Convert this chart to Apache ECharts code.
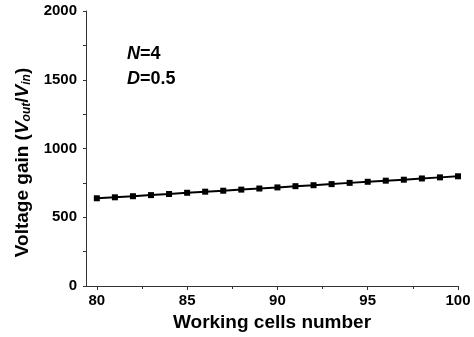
<!DOCTYPE html>
<html>
<head>
<meta charset="utf-8">
<script src="https://cdn.jsdelivr.net/npm/echarts@6/dist/echarts.min.js"></script>
<style>html,body{margin:0;padding:0;background:#fff}#c{width:474px;height:337px}</style>
</head>
<body>
<div id="c"></div>
<script>
// Working cells count and the resulting voltage gain
const cells = [80, 81, 82, 83, 84, 85, 86, 87, 88, 89, 90, 91, 92, 93, 94, 95, 96, 97, 98, 99, 100];
const gain = [638, 645, 653, 661, 669, 678, 686, 693, 701, 709, 717, 726, 733, 741, 750, 758, 766, 773, 782, 790, 798];
const xLabelTicks = [80, 85, 90, 95, 100];
const xMinorTicks = [82.5, 87.5, 92.5, 97.5];

const FONT = '"Liberation Sans", Arial, sans-serif';
const axisColor = '#333';

const chart = echarts.init(document.getElementById('c'), null, {renderer: 'canvas'});
chart.setOption({
  animation: false,
  grid: {left: 86, right: 16, top: 11, bottom: 50},
  xAxis: [{
    type: 'value', min: 79.4, max: 100,
    splitLine: {show: false},
    axisLine: {lineStyle: {color: axisColor, width: 1}},
    axisTick: {customValues: xLabelTicks, length: 4, lineStyle: {color: axisColor}},
    axisLabel: {customValues: xLabelTicks, color: '#000', fontFamily: FONT, fontWeight: 'bold', fontSize: 15, margin: 7},
    name: 'Working cells number', nameLocation: 'middle', nameGap: 27,
    nameTextStyle: {color: '#000', fontFamily: FONT, fontWeight: 'bold', fontSize: 19}
  }, {
    type: 'value', min: 79.4, max: 100, position: 'bottom',
    splitLine: {show: false},
    axisLine: {show: false},
    axisTick: {customValues: xMinorTicks, length: 3, lineStyle: {color: axisColor}},
    axisLabel: {show: false}
  }],
  yAxis: {
    type: 'value', min: 0, max: 2000, interval: 250,
    splitLine: {show: false},
    axisLine: {show: true, lineStyle: {color: axisColor, width: 1}},
    axisTick: {show: true, length: 3, lineStyle: {color: axisColor}},
    axisLabel: {
      color: '#000', fontFamily: FONT, fontWeight: 'bold', fontSize: 15, margin: 9,
      formatter: v => (v % 500 === 0 ? String(v) : '')
    },
    name: '{t|Voltage gain (}{i|V}{s|out}{t|/}{i|V}{s|in}{t|)}',
    nameLocation: 'middle', nameGap: 50,
    nameTextStyle: {
      padding: [0, 28, 0, 0],
      rich: {
        t: {color: '#000', fontFamily: FONT, fontWeight: 'bold', fontSize: 19},
        i: {color: '#000', fontFamily: FONT, fontWeight: 'bold', fontStyle: 'italic', fontSize: 19},
        s: {color: '#000', fontFamily: FONT, fontWeight: 'bold', fontStyle: 'italic', fontSize: 12, verticalAlign: 'bottom', padding: [8, 0, 0, 0]}
      }
    }
  },
  graphic: [{
    type: 'text', left: 127, top: 45,
    style: {
      text: '{i|N}{t|=4}\n{i|D}{t|=0.5}',
      rich: {
        t: {fill: '#000', fontFamily: FONT, fontWeight: 'bold', fontSize: 18, lineHeight: 25},
        i: {fill: '#000', fontFamily: FONT, fontWeight: 'bold', fontStyle: 'italic', fontSize: 18, lineHeight: 25}
      }
    }
  }],
  series: [{
    type: 'line', xAxisIndex: 0,
    data: cells.map((c, k) => [c, gain[k]]),
    lineStyle: {color: '#000', width: 2},
    itemStyle: {color: '#000'},
    symbol: 'rect', symbolSize: 6
  }]
});
</script>
</body>
</html>
